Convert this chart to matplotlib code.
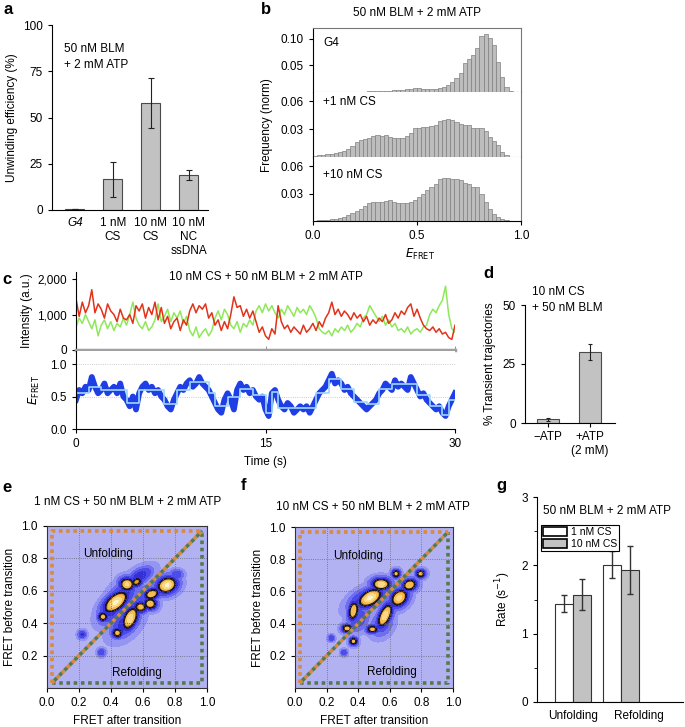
import numpy as np
import matplotlib
matplotlib.use("Agg")
import matplotlib.pyplot as plt
from matplotlib.patches import Patch
from matplotlib.ticker import FuncFormatter, MultipleLocator

plt.rcParams['font.family'] = ['Liberation Sans', 'DejaVu Sans']
plt.rcParams['font.size'] = 8.5
plt.rcParams['axes.linewidth'] = 0.8
plt.rcParams['xtick.major.size'] = 3
plt.rcParams['ytick.major.size'] = 3

# ---- panel a: unwinding efficiency
a_labels = ['G4', '1 nM\nCS', '10 nM\nCS', '10 nM\nNC\nssDNA']
a_vals = [0.6, 16.5, 58.0, 19.0]
a_err = [0.0, 9.5, 13.5, 2.8]

# ---- panel b: E_FRET histograms (bin width 0.02, 0..1)
b_edges = np.linspace(0, 1, 51)
hist_g4 = [0, 0, 0, 0, 0, 0, 0, 0, 0, 0, 0, 0, 0,
           0.001, 0.001, 0.0015, 0.0015, 0.002, 0.002, 0.003, 0.003, 0.004, 0.005,
           0.006, 0.007, 0.007, 0.006, 0.005, 0.005, 0.005, 0.007, 0.009, 0.013,
           0.019, 0.026, 0.036, 0.054, 0.061, 0.070, 0.083, 0.105, 0.108, 0.102,
           0.089, 0.057, 0.028, 0.010, 0.0025, 0.0006, 0]
hist_1cs = [0.001, 0.002, 0.002, 0.003, 0.003, 0.004, 0.005, 0.007, 0.009, 0.012,
            0.016, 0.018, 0.019, 0.021, 0.023, 0.0235, 0.0225, 0.0235, 0.022, 0.021,
            0.021, 0.020, 0.0225, 0.026, 0.031, 0.031, 0.032, 0.0325, 0.033, 0.034,
            0.039, 0.040, 0.041, 0.040, 0.038, 0.036, 0.035, 0.0345, 0.031, 0.031,
            0.031, 0.028, 0.022, 0.0175, 0.013, 0.0057, 0.002, 0.0005, 0, 0]
hist_10cs = [0.0005, 0.001, 0.001, 0.0015, 0.002, 0.002, 0.003, 0.0046, 0.0064, 0.009,
             0.011, 0.0136, 0.016, 0.0196, 0.0207, 0.0207, 0.0207, 0.0214, 0.0225, 0.0207,
             0.0196, 0.020, 0.0196, 0.0207, 0.0225, 0.026, 0.0296, 0.034, 0.0368, 0.041,
             0.0457, 0.0475, 0.0475, 0.0454, 0.046, 0.0446, 0.042, 0.040, 0.0368, 0.0368,
             0.029, 0.0207, 0.0136, 0.008, 0.004, 0.0018, 0.0007, 0.0002, 0, 0]

# ---- panel c: single-molecule traces, sampled every 0.25 s
t_trace = np.arange(121) * 0.25
red = [1450, 950, 1350, 1050, 1250, 1700, 1050, 1300, 1150, 900, 1300, 1100,
       1000, 800, 1150, 900, 850, 1000, 750, 1250, 1100, 1300, 900, 1200,
       1000, 1350, 850, 1200, 750, 950, 600, 800, 900, 550, 850, 700,
       1100, 1300, 1050, 1250, 1150, 1300, 900, 1050, 700, 850, 550, 800,
       600, 1000, 1500, 1200, 1250, 950, 1150, 900, 1100, 800, 500, 650,
       400, 300, 600, 450, 1250, 800, 600, 700, 500, 650, 550, 450,
       700, 500, 600, 750, 550, 800, 650, 900, 1050, 1350, 1000, 1150,
       950, 1100, 1000, 850, 1050, 900, 1000, 800, 950, 700, 850, 750,
       900, 800, 1000, 750, 850, 1050, 900, 1100, 1000, 1200, 1300, 950,
       1150, 900, 700, 600, 550, 650, 500, 600, 450, 500, 350, 300, 700]
green = [650, 900, 750, 1000, 800, 600, 850, 400, 700, 850, 600, 800,
         550, 750, 650, 900, 700, 1000, 1350, 900, 700, 600, 800, 550,
         650, 850, 1300, 800, 950, 1150, 800, 1050, 900, 1100, 750, 950,
         550, 400, 650, 350, 500, 600, 400, 550, 900, 1100, 850, 1150,
         1000, 700, 600, 800, 500, 750, 650, 850, 700, 1100, 1250, 1050,
         1300, 1100, 1250, 1050, 900, 1150, 1000, 1250, 1100, 950, 1200, 1050,
         1150, 1000, 1250, 1100, 900, 600, 500, 450, 550, 400, 600, 500,
         650, 550, 700, 500, 600, 750, 650, 900, 1000, 1250, 1100, 950,
         800, 950, 700, 850, 650, 750, 550, 600, 500, 650, 450, 550,
         600, 500, 650, 700, 1000, 1150, 1050, 1250, 1400, 1800, 1000, 600, 500]
efret = [0.45, 0.6, 0.55, 0.65, 0.6, 0.8, 0.65, 0.55, 0.6, 0.7, 0.55, 0.6,
         0.65, 0.55, 0.7, 0.5, 0.45, 0.35, 0.5, 0.3, 0.55, 0.65, 0.7, 0.6,
         0.65, 0.55, 0.6, 0.5, 0.45, 0.35, 0.3, 0.45, 0.55, 0.65, 0.6, 0.7,
         0.75, 0.65, 0.7, 0.8, 0.7, 0.65, 0.6, 0.5, 0.4, 0.3, 0.25, 0.45,
         0.55, 0.45, 0.3, 0.6, 0.7, 0.6, 0.65, 0.55, 0.6, 0.5, 0.45, 0.5,
         0.3, 0.2, 0.55, 0.6, 0.45, 0.35, 0.3, 0.4, 0.35, 0.25, 0.3, 0.35,
         0.3, 0.35, 0.25, 0.35, 0.45, 0.55, 0.6, 0.65, 0.75, 0.85, 0.7, 0.75,
         0.7, 0.6, 0.65, 0.55, 0.5, 0.45, 0.4, 0.35, 0.3, 0.35, 0.4, 0.45,
         0.55, 0.6, 0.7, 0.65, 0.6, 0.75, 0.65, 0.7, 0.65, 0.6, 0.8, 0.7,
         0.6, 0.5, 0.55, 0.45, 0.4, 0.35, 0.3, 0.35, 0.25, 0.2, 0.35, 0.45, 0.55]
fit_t = [0, 1, 2, 4, 5, 7, 8, 9, 10.5, 11, 12, 13, 14, 15, 15.5, 16, 19, 20,
         21, 22, 23, 24, 25, 27, 28, 29, 29.5, 30]
fit_lev = [0.55, 0.65, 0.6, 0.4, 0.6, 0.38, 0.6, 0.72, 0.55, 0.35, 0.5, 0.62,
           0.52, 0.25, 0.57, 0.32, 0.55, 0.77, 0.62, 0.42, 0.38, 0.62, 0.7,
           0.52, 0.35, 0.22, 0.45, 0.45]

# ---- panel d: transient trajectories
d_labels = ['\u2212ATP', '+ATP\n(2 mM)']
d_vals = [1.5, 30.0]
d_err = [0.6, 3.5]

# ---- panels e/f: TDP peaks (x after, y before, amplitude, major, minor, angle)
tdp_1cs = [(0.43, 0.53, 1.35, 0.035, 0.018, 40), (0.47, 0.57, 0.5, 0.05, 0.03, 45),
           (0.50, 0.64, 1.15, 0.018, 0.016, 0), (0.56, 0.655, 0.85, 0.016, 0.012, 30),
           (0.58, 0.69, 0.5, 0.04, 0.02, 30), (0.35, 0.44, 0.95, 0.012, 0.012, 0),
           (0.44, 0.34, 0.95, 0.013, 0.012, 0), (0.52, 0.43, 1.25, 0.03, 0.016, 65),
           (0.49, 0.40, 0.5, 0.05, 0.03, 45), (0.585, 0.50, 0.95, 0.017, 0.014, 0),
           (0.645, 0.52, 1.05, 0.016, 0.014, 0), (0.655, 0.58, 1.05, 0.02, 0.013, 20),
           (0.75, 0.635, 1.35, 0.024, 0.018, 20), (0.70, 0.60, 0.45, 0.05, 0.02, 25),
           (0.22, 0.33, 0.45, 0.012, 0.012, 0), (0.34, 0.22, 0.4, 0.012, 0.012, 0),
           (0.81, 0.70, 0.4, 0.02, 0.015, 0), (0.40, 0.47, 0.45, 0.045, 0.03, 45),
           (0.60, 0.55, 0.4, 0.05, 0.03, 45)]
tdp_10cs = [(0.33, 0.37, 1.0, 0.013, 0.010, 0), (0.37, 0.48, 1.1, 0.024, 0.012, 80),
            (0.37, 0.29, 0.95, 0.010, 0.010, 0), (0.475, 0.56, 1.35, 0.032, 0.018, 30),
            (0.545, 0.645, 1.25, 0.022, 0.014, 0), (0.49, 0.365, 0.95, 0.015, 0.010, 0),
            (0.57, 0.45, 1.25, 0.032, 0.014, 65), (0.66, 0.56, 1.2, 0.024, 0.018, 45),
            (0.725, 0.64, 1.1, 0.018, 0.014, 20), (0.64, 0.71, 0.95, 0.010, 0.010, 0),
            (0.795, 0.71, 0.95, 0.010, 0.012, 90), (0.23, 0.31, 0.4, 0.010, 0.010, 0),
            (0.31, 0.22, 0.4, 0.010, 0.010, 0), (0.42, 0.55, 0.45, 0.05, 0.025, 35),
            (0.40, 0.43, 0.4, 0.04, 0.03, 60), (0.55, 0.40, 0.4, 0.04, 0.03, 60)]

# ---- panel g: rates
g_groups = ['Unfolding', 'Refolding']
rate_1cs = [1.44, 2.01]
rate_1cs_err = [0.12, 0.20]
rate_10cs = [1.57, 1.93]
rate_10cs_err = [0.23, 0.35]

W, H = 685, 727
fig = plt.figure(figsize=(W / 100, H / 100), dpi=100)


def box(x0, y0, x1, y1):
    return [x0 / W, 1 - y1 / H, (x1 - x0) / W, (y1 - y0) / H]


def ftext(x, y, s, **kw):
    fig.text(x / W, 1 - y / H, s, **kw)


def clean(ax):
    ax.spines['top'].set_visible(False)
    ax.spines['right'].set_visible(False)


bar_gray = '#c2c2c2'
edge = '#4a4a4a'
ekw = dict(elinewidth=0.8, capthick=0.8, ecolor='#222222')

# panel letters
for letter, x, y in [('a', 3, 2), ('b', 261, 2), ('c', 2, 272), ('d', 483, 266),
                     ('e', 2, 480), ('f', 241, 478), ('g', 496, 478)]:
    ftext(x, y, letter, fontsize=12, fontweight='bold', va='top')

# ---------------- a
ax = fig.add_axes(box(52, 25, 208, 210))
xa = np.arange(len(a_vals))
ax.bar(xa, a_vals, width=0.5, color=bar_gray, edgecolor=edge, lw=0.8,
       yerr=a_err, capsize=2, error_kw=ekw)
ax.set_xlim(-0.6, 3.5)
ax.set_ylim(0, 100)
ax.set_yticks([0, 25, 50, 75, 100])
ax.set_xticks(xa)
ax.set_xticklabels(a_labels)
ax.get_xticklabels()[0].set_style('italic')
ax.tick_params(axis='x', length=0, pad=5)
ax.set_ylabel('Unwinding efficiency (%)', labelpad=4)
ax.text(0.08, 0.9, '50 nM BLM\n+ 2 mM ATP', transform=ax.transAxes, va='top',
        linespacing=1.4)
clean(ax)

# ---------------- b
rows = [(28, 92, hist_g4, 0.12, [0.05, 0.10], ['0.05', '0.10'], 'G4', 43),
        (92, 157, hist_1cs, 0.07, [0.03, 0.06], ['0.03', '0.06'], '+1 nM CS', 102),
        (157, 221, hist_10cs, 0.07, [0.03, 0.06], ['0.03', '0.06'], '+10 nM CS', 175)]
centers = (b_edges[:-1] + b_edges[1:]) / 2
for i, (y0, y1, hv, ymax, ticks, tlabels, name, ty) in enumerate(rows):
    ax = fig.add_axes(box(313, y0, 521, y1))
    ax.bar(centers, hv, width=0.02, color='#bdbdbd', edgecolor='#808080', lw=0.5)
    ax.set_xlim(0, 1)
    ax.set_ylim(0, ymax)
    ax.set_yticks(ticks)
    ax.set_yticklabels(tlabels)
    ax.spines['right'].set_color('#777777')
    ax.spines['top'].set_color('#777777')
    ax.spines['top'].set_visible(i == 0)
    if i < 2:
        ax.spines['bottom'].set_color('#999999')
        ax.set_xticks([])
    else:
        ax.set_xticks([0, 0.5, 1.0])
        ax.set_xticklabels(['0.0', '0.5', '1.0'])
    ftext(323, ty, name, va='center')
ftext(417, 13, '50 nM BLM + 2 mM ATP', ha='center', va='center')
ftext(267, 125, 'Frequency (norm)', rotation=90, ha='center', va='center')
ftext(420, 254, r'$\it{E}_{\mathrm{FRET}}$', ha='center', va='center')

# ---------------- c
ax = fig.add_axes(box(76, 272, 455, 350))
ax.plot(t_trace, green, color='#8ee85a', lw=1.1)
ax.plot(t_trace, red, color='#e2321a', lw=1.1)
ax.set_xlim(0, 30)
ax.set_ylim(0, 2200)
ax.set_yticks([0, 1000, 2000])
ax.yaxis.set_major_formatter(FuncFormatter(lambda v, p: f'{int(v):,}'))
ax.set_xticks([15, 30])
ax.tick_params(axis='x', direction='in', length=3, color='#999999', labelbottom=False)
ax.spines['bottom'].set_color('#a0a0a0')
ax.spines['bottom'].set_linewidth(2.5)
ax.set_ylabel('Intensity (a.u.)', labelpad=3)
ax.text(0.5, 0.93, '10 nM CS + 50 nM BLM + 2 mM ATP', transform=ax.transAxes,
        ha='center', va='center')
clean(ax)

ax = fig.add_axes(box(76, 351, 455, 429))
ax.axhline(0.5, color='#bbbbbb', lw=0.6, ls=':')
ax.axhline(1.0, color='#bbbbbb', lw=0.6, ls=':')
ax.plot(t_trace, efret, color='#1f3ee6', lw=4.2, solid_joinstyle='round')
ax.step(fit_t, fit_lev, where='post', color='#9ad8ff', lw=1.2)
ax.set_xlim(0, 30)
ax.set_ylim(0, 1.2)
ax.set_yticks([0, 0.5, 1.0])
ax.set_yticklabels(['0.0', '0.5', '1.0'])
ax.set_xticks([0, 15, 30])
ax.set_xlabel('Time (s)', labelpad=4)
ax.set_ylabel(r'$\it{E}_{\mathrm{FRET}}$', labelpad=6)
clean(ax)

# ---------------- d
ax = fig.add_axes(box(525, 305, 615, 423))
xd = np.arange(len(d_vals))
ax.bar(xd, d_vals, width=0.52, color=bar_gray, edgecolor=edge, lw=0.8,
       yerr=d_err, capsize=1.5, error_kw=ekw)
ax.set_xlim(-0.55, 1.6)
ax.set_ylim(0, 50)
ax.set_yticks([0, 25, 50])
ax.set_xticks(xd)
ax.set_xticklabels(d_labels)
ax.tick_params(axis='x', length=3, pad=3)
ax.set_ylabel('% Transient trajectories', labelpad=5)
clean(ax)
ftext(532, 300, '10 nM CS\n+ 50 nM BLM', va='center', linespacing=1.35)

# ---------------- e / f
gx = np.linspace(0, 1, 301)
GX, GY = np.meshgrid(gx, gx)
levels = [0.1, 0.2, 0.3, 0.42, 0.6, 0.7, 0.9, 1.1, 1.3, 9]
fills = ['#9494f2', '#6e6eee', '#4c4ce8', '#3430d4', '#1a1650', '#e69a2c',
         '#f3bc50', '#fbd986', '#fff3cc']


def density(peaks):
    # each peak keeps its own shape: combine by maximum, not sum
    Z = np.zeros_like(GX)
    for x0, y0, amp, s1, s2, ang in peaks:
        th = np.deg2rad(ang)
        u = (GX - x0) * np.cos(th) + (GY - y0) * np.sin(th)
        v = -(GX - x0) * np.sin(th) + (GY - y0) * np.cos(th)
        r2 = ((u / s1) ** 2 + (v / s2) ** 2) / 3.2
        core = amp * np.exp(-0.5 * r2)
        halo = 0.48 * amp * np.exp(-0.5 * r2 / 2.2)
        Z = np.maximum(Z, np.maximum(core, halo))
    return Z


for (x0, y0, x1, y1), peaks, title, tx, ty, lab_u, lab_r in [
        ((47, 526, 207, 688), tdp_1cs, '1 nM CS + 50 nM BLM + 2 mM ATP', 128, 502,
         (0.38, 0.83), (0.56, 0.09)),
        ((295, 527, 453, 688), tdp_10cs, '10 nM CS + 50 nM BLM + 2 mM ATP', 373, 507,
         (0.40, 0.82), (0.61, 0.10))]:
    ax = fig.add_axes(box(x0, y0, x1, y1))
    ax.set_facecolor('#b2b2f2')
    Z = density(peaks)
    ax.contourf(gx, gx, Z, levels=levels, colors=fills, zorder=1)
    ax.contour(gx, gx, Z, levels=[0.68], colors='#111111', linewidths=0.8, zorder=2)
    for g in [0.2, 0.4, 0.6, 0.8]:
        ax.axvline(g, color='#666677', lw=0.6, ls=':', zorder=3)
        ax.axhline(g, color='#666677', lw=0.6, ls=':', zorder=3)
    lo, hi = 0.03, 0.97
    ax.plot([lo, lo, hi], [lo, hi, hi], color='#d98a3c', lw=2.6, ls=(0, (1, 1)),
            zorder=4)
    ax.plot([lo, hi, hi], [lo, lo, hi], color='#55794f', lw=2.6, ls=(0, (1, 1)),
            zorder=4)
    ax.plot([lo, hi], [lo, hi], color='#d98a3c', lw=2.6, ls=(0, (1, 1)), zorder=4)
    ax.plot([lo, hi], [lo, hi], color='#55794f', lw=2.6, ls=(1, (1, 1)), zorder=4)
    ax.text(lab_u[0], lab_u[1], 'Unfolding', ha='center', va='center', zorder=5)
    ax.text(lab_r[0], lab_r[1], 'Refolding', ha='center', va='center', zorder=5)
    ax.set_xlim(0, 1)
    ax.set_ylim(0, 1)
    ax.set_xticks([0, 0.2, 0.4, 0.6, 0.8, 1.0])
    ax.set_xticklabels(['0.0', '0.2', '0.4', '0.6', '0.8', '1.0'])
    ax.set_yticks([0.2, 0.4, 0.6, 0.8, 1.0])
    ax.set_yticklabels(['0.2', '0.4', '0.6', '0.8', '1.0'])
    ax.set_xlabel('FRET after transition', labelpad=4)
    ax.set_ylabel('FRET before transition', labelpad=4)
    for s in ax.spines.values():
        s.set_color('#333333')
    ftext(tx, ty, title, ha='center', va='center')

# ---------------- g
ax = fig.add_axes(box(537, 497, 683, 702))
xg = np.arange(len(g_groups))
bw = 0.375
gkw = dict(elinewidth=1.0, capthick=1.0, ecolor='#333333')
ax.bar(xg - bw / 2, rate_1cs, width=bw, color='white', edgecolor='#333333', lw=0.8,
       yerr=rate_1cs_err, capsize=2, error_kw=gkw)
ax.bar(xg + bw / 2, rate_10cs, width=bw, color=bar_gray, edgecolor='#333333', lw=0.8,
       yerr=rate_10cs_err, capsize=2, error_kw=gkw)
ax.set_xlim(-0.75, 2.29)
ax.set_ylim(0, 3)
ax.set_yticks([0, 1, 2, 3])
ax.yaxis.set_minor_locator(MultipleLocator(0.5))
ax.tick_params(axis='y', which='minor', length=2)
# group labels sit a little right of the second pair, as in the source
ax.set_xticks([0, 1.375])
ax.set_xticklabels(g_groups)
ax.tick_params(axis='x', length=0, pad=6)
ax.set_ylabel(r'Rate (s$^{-1}$)', labelpad=6)
ax.text(0.04, 0.93, '50 nM BLM + 2 mM ATP', transform=ax.transAxes, va='center')
handles = [Patch(facecolor='white', edgecolor='black', lw=1.2, label='1 nM CS'),
           Patch(facecolor=bar_gray, edgecolor='black', lw=1.2, label='10 nM CS')]
leg = ax.legend(handles=handles, loc='upper left', bbox_to_anchor=(0.03, 0.865),
                borderaxespad=0, fontsize=7.5, fancybox=False, edgecolor='black',
                framealpha=1, handlelength=2.3, handleheight=1.0, labelspacing=0.15,
                borderpad=0.2, handletextpad=0.3)
leg.get_frame().set_linewidth(0.8)
clean(ax)

fig.savefig('out.png', dpi=100)
